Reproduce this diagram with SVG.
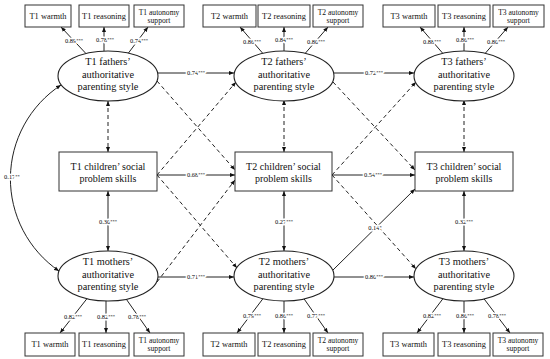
<svg xmlns="http://www.w3.org/2000/svg" width="550" height="359" viewBox="0 0 550 359">
<style>
.bx{fill:#fff;stroke:#333;stroke-width:1}
.el{fill:#fff;stroke:#222;stroke-width:1.1}
.t{font-family:"Liberation Serif",serif;fill:#111;text-anchor:middle}
.big{font-size:10.3px}
.mid{font-size:10px}
.ind{font-size:8.4px}
.aut{font-size:7.6px}
.c{stroke:#222;stroke-width:1;fill:none;marker-end:url(#ah)}
.b{marker-start:url(#ah)}
.d{stroke-dasharray:4 3}
.l{font-family:"Liberation Serif",serif;font-size:6.4px;fill:#000;text-anchor:middle;paint-order:stroke;stroke:#fff;stroke-width:3px;stroke-linejoin:round}
.s{font-size:4.6px}
</style>
<defs>
<marker id="ah" viewBox="0 0 10 10" refX="10" refY="5" markerWidth="5" markerHeight="5" markerUnits="userSpaceOnUse" orient="auto-start-reverse"><path d="M0,1 L10,5 L0,9 z" fill="#111"/></marker>
</defs>
<rect width="550" height="359" fill="#fff"/>

<g id="connectors">
<line class="c" x1="86" y1="53.6" x2="61" y2="27"/>
<line class="c" x1="104" y1="51" x2="104" y2="27"/>
<line class="c" x1="128" y1="53.6" x2="148" y2="27"/>
<line class="c" x1="263" y1="53.6" x2="240" y2="27"/>
<line class="c" x1="284" y1="51" x2="284" y2="27"/>
<line class="c" x1="305" y1="53.6" x2="328" y2="27"/>
<line class="c" x1="443" y1="53.6" x2="420" y2="27"/>
<line class="c" x1="464" y1="51" x2="464" y2="27"/>
<line class="c" x1="485" y1="53.6" x2="508" y2="27"/>
<line class="c" x1="87" y1="298.6" x2="60" y2="333"/>
<line class="c" x1="106" y1="301" x2="106" y2="333"/>
<line class="c" x1="126" y1="298.8" x2="150" y2="333"/>
<line class="c" x1="263" y1="298.6" x2="237" y2="333"/>
<line class="c" x1="284" y1="301" x2="284" y2="333"/>
<line class="c" x1="304" y1="298.8" x2="328" y2="333"/>
<line class="c" x1="443" y1="298.6" x2="417" y2="333"/>
<line class="c" x1="464" y1="301" x2="464" y2="333"/>
<line class="c" x1="484" y1="298.8" x2="510" y2="333"/>
<line class="c" x1="158" y1="73" x2="234" y2="73"/>
<line class="c" x1="334" y1="73" x2="414" y2="73"/>
<line class="c" x1="157" y1="175" x2="235" y2="175"/>
<line class="c" x1="332" y1="175" x2="415" y2="175"/>
<line class="c" x1="158" y1="277" x2="234" y2="277"/>
<line class="c" x1="334" y1="277" x2="414" y2="277"/>
<line class="c d" x1="157" y1="81" x2="235" y2="170"/>
<line class="c d" x1="157" y1="175" x2="236" y2="82"/>
<line class="c d" x1="157" y1="175" x2="237" y2="268"/>
<line class="c d" x1="157" y1="282" x2="235" y2="180"/>
<line class="c d" x1="333" y1="82" x2="415" y2="170"/>
<line class="c d" x1="332" y1="175" x2="416" y2="82"/>
<line class="c d" x1="332" y1="175" x2="416" y2="269"/>
<line class="c" x1="333" y1="270" x2="415" y2="189"/>
<line class="c b d" x1="108" y1="101" x2="108" y2="152"/>
<line class="c b" x1="108" y1="191" x2="108" y2="251"/>
<line class="c b d" x1="284" y1="100" x2="284" y2="152"/>
<line class="c b" x1="284" y1="191" x2="284" y2="251"/>
<line class="c b d" x1="464" y1="100" x2="464" y2="152"/>
<line class="c b" x1="464" y1="191" x2="464" y2="251"/>
<path class="c b" d="M61,85 A112,112 0 0,0 59,271"/>
<text class="l" x="74" y="43">0.89<tspan class="s" dy="-1.5">***</tspan></text>
<text class="l" x="105" y="42">0.78<tspan class="s" dy="-1.5">***</tspan></text>
<text class="l" x="139" y="43">0.74<tspan class="s" dy="-1.5">***</tspan></text>
<text class="l" x="252" y="44">0.86<tspan class="s" dy="-1.5">***</tspan></text>
<text class="l" x="284" y="42">0.84<tspan class="s" dy="-1.5">***</tspan></text>
<text class="l" x="316" y="44">0.80<tspan class="s" dy="-1.5">***</tspan></text>
<text class="l" x="432" y="44">0.88<tspan class="s" dy="-1.5">***</tspan></text>
<text class="l" x="465" y="42">0.86<tspan class="s" dy="-1.5">***</tspan></text>
<text class="l" x="496" y="44">0.80<tspan class="s" dy="-1.5">***</tspan></text>
<text class="l" x="73" y="319">0.82<tspan class="s" dy="-1.5">***</tspan></text>
<text class="l" x="106" y="319">0.82<tspan class="s" dy="-1.5">***</tspan></text>
<text class="l" x="137" y="319">0.78<tspan class="s" dy="-1.5">***</tspan></text>
<text class="l" x="252" y="318">0.79<tspan class="s" dy="-1.5">***</tspan></text>
<text class="l" x="284" y="318">0.86<tspan class="s" dy="-1.5">***</tspan></text>
<text class="l" x="316" y="318">0.77<tspan class="s" dy="-1.5">***</tspan></text>
<text class="l" x="432" y="318">0.82<tspan class="s" dy="-1.5">***</tspan></text>
<text class="l" x="465" y="318">0.86<tspan class="s" dy="-1.5">***</tspan></text>
<text class="l" x="497" y="318">0.78<tspan class="s" dy="-1.5">***</tspan></text>
<text class="l" x="108" y="224">0.30<tspan class="s" dy="-1.5">***</tspan></text>
<text class="l" x="284" y="224">0.27<tspan class="s" dy="-1.5">***</tspan></text>
<text class="l" x="464" y="224">0.32<tspan class="s" dy="-1.5">***</tspan></text>
<text class="l" x="196" y="75">0.74<tspan class="s" dy="-1.5">***</tspan></text>
<text class="l" x="374" y="75">0.72<tspan class="s" dy="-1.5">***</tspan></text>
<text class="l" x="196" y="177">0.68<tspan class="s" dy="-1.5">***</tspan></text>
<text class="l" x="373" y="177">0.54<tspan class="s" dy="-1.5">***</tspan></text>
<text class="l" x="196" y="279">0.71<tspan class="s" dy="-1.5">***</tspan></text>
<text class="l" x="374" y="279">0.80<tspan class="s" dy="-1.5">***</tspan></text>
<text class="l" x="375" y="230">0.14<tspan class="s" dy="-1.5">*</tspan></text>
<text class="l" x="12" y="179">0.17<tspan class="s" dy="-1.5">**</tspan></text>
</g>

<g id="t1-top-ind">
<rect class="bx" x="25" y="5" width="46" height="22"/><text class="t ind" x="48" y="18.5">T1 warmth</text>
<rect class="bx" x="79" y="5" width="50" height="22"/><text class="t ind" x="104" y="18.5">T1 reasoning</text>
<rect class="bx" x="134" y="5" width="50" height="22"/><text class="t aut" x="159" y="15.3">T1 autonomy</text><text class="t aut" x="159" y="23.3">support</text>
</g>
<g id="t2-top-ind">
<rect class="bx" x="203" y="5" width="53" height="22"/><text class="t ind" x="229.5" y="18.5">T2 warmth</text>
<rect class="bx" x="258" y="5" width="52" height="22"/><text class="t ind" x="284" y="18.5">T2 reasoning</text>
<rect class="bx" x="313" y="5" width="50" height="22"/><text class="t aut" x="338" y="15.3">T2 autonomy</text><text class="t aut" x="338" y="23.3">support</text>
</g>
<g id="t3-top-ind">
<rect class="bx" x="383" y="5" width="52" height="22"/><text class="t ind" x="409" y="18.5">T3 warmth</text>
<rect class="bx" x="438" y="5" width="52" height="22"/><text class="t ind" x="464" y="18.5">T3 reasoning</text>
<rect class="bx" x="493" y="5" width="51" height="22"/><text class="t aut" x="518.5" y="15.3">T3 autonomy</text><text class="t aut" x="518.5" y="23.3">support</text>
</g>

<g id="t1-fathers"><ellipse class="el" cx="108" cy="76" rx="50" ry="25"/>
<text class="t big" x="108" y="65">T1 fathers’</text><text class="t big" x="108" y="77.5">authoritative</text><text class="t big" x="108" y="90">parenting style</text></g>
<g id="t2-fathers"><ellipse class="el" cx="284" cy="76" rx="50" ry="25"/>
<text class="t big" x="284" y="65">T2 fathers’</text><text class="t big" x="284" y="77.5">authoritative</text><text class="t big" x="284" y="90">parenting style</text></g>
<g id="t3-fathers"><ellipse class="el" cx="464" cy="76" rx="50" ry="25"/>
<text class="t big" x="464" y="65">T3 fathers’</text><text class="t big" x="464" y="77.5">authoritative</text><text class="t big" x="464" y="90">parenting style</text></g>

<g id="t1-children"><rect class="bx" x="59" y="152" width="98" height="39"/>
<text class="t mid" x="108" y="170">T1 children’ social</text><text class="t mid" x="108" y="182">problem skills</text></g>
<g id="t2-children"><rect class="bx" x="235" y="152" width="97" height="39"/>
<text class="t mid" x="283.5" y="170">T2 children’ social</text><text class="t mid" x="283.5" y="182">problem skills</text></g>
<g id="t3-children"><rect class="bx" x="415" y="152" width="98" height="39"/>
<text class="t mid" x="464" y="170">T3 children’ social</text><text class="t mid" x="464" y="182">problem skills</text></g>

<g id="t1-mothers"><ellipse class="el" cx="108" cy="276" rx="50" ry="25"/>
<text class="t big" x="108" y="265">T1 mothers’</text><text class="t big" x="108" y="277.5">authoritative</text><text class="t big" x="108" y="290">parenting style</text></g>
<g id="t2-mothers"><ellipse class="el" cx="284" cy="276" rx="50" ry="25"/>
<text class="t big" x="284" y="265">T2 mothers’</text><text class="t big" x="284" y="277.5">authoritative</text><text class="t big" x="284" y="290">parenting style</text></g>
<g id="t3-mothers"><ellipse class="el" cx="464" cy="276" rx="50" ry="25"/>
<text class="t big" x="464" y="265">T3 mothers’</text><text class="t big" x="464" y="277.5">authoritative</text><text class="t big" x="464" y="290">parenting style</text></g>

<g id="t1-bot-ind">
<rect class="bx" x="25" y="333" width="50" height="23"/><text class="t ind" x="50" y="346.5">T1 warmth</text>
<rect class="bx" x="79" y="333" width="50" height="23"/><text class="t ind" x="104" y="346.5">T1 reasoning</text>
<rect class="bx" x="134" y="333" width="50" height="23"/><text class="t aut" x="159" y="342.5">T1 autonomy</text><text class="t aut" x="159" y="350.5">support</text>
</g>
<g id="t2-bot-ind">
<rect class="bx" x="203" y="333" width="52" height="23"/><text class="t ind" x="229" y="346.5">T2 warmth</text>
<rect class="bx" x="258" y="333" width="52" height="23"/><text class="t ind" x="284" y="346.5">T2 reasoning</text>
<rect class="bx" x="313" y="333" width="50" height="23"/><text class="t aut" x="338" y="342.5">T2 autonomy</text><text class="t aut" x="338" y="350.5">support</text>
</g>
<g id="t3-bot-ind">
<rect class="bx" x="383" y="333" width="51" height="23"/><text class="t ind" x="408.5" y="346.5">T3 warmth</text>
<rect class="bx" x="438" y="333" width="52" height="23"/><text class="t ind" x="464" y="346.5">T3 reasoning</text>
<rect class="bx" x="493" y="333" width="50" height="23"/><text class="t aut" x="518" y="342.5">T3 autonomy</text><text class="t aut" x="518" y="350.5">support</text>
</g>
</svg>
